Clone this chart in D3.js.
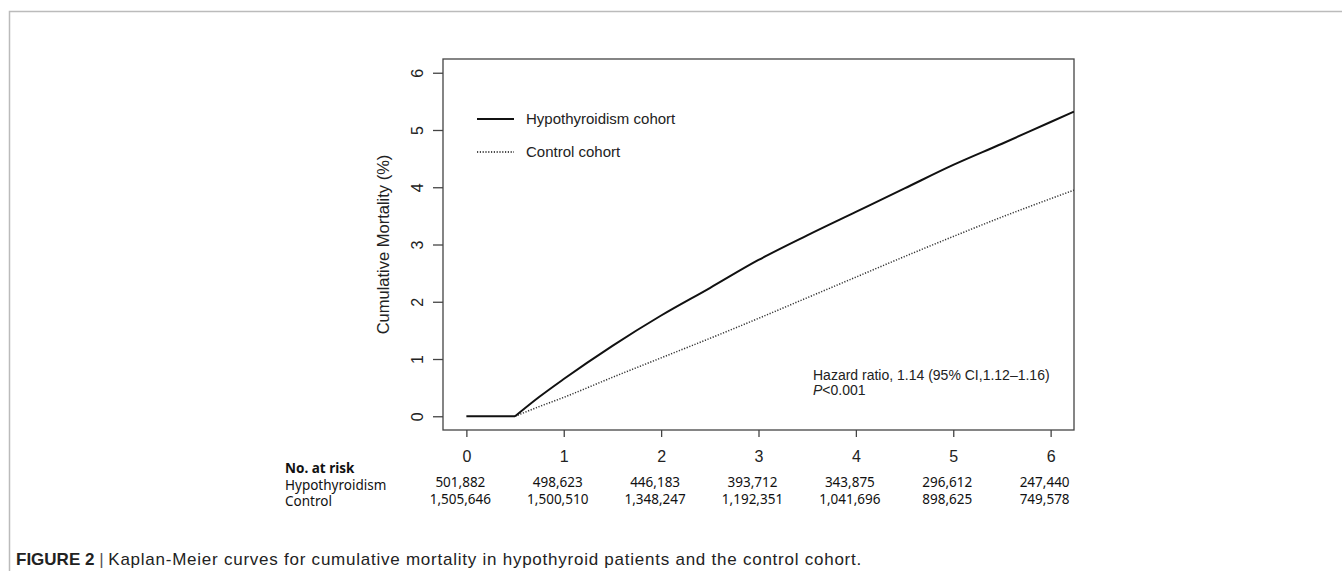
<html><head>
<meta charset="utf-8">
<script src="https://d3js.org/d3.v7.min.js"></script>
<title>Kaplan-Meier cumulative mortality</title>
<style>
  body { margin: 0; background: #fff; }
  .axis text { font-family: "Liberation Sans", Arial, sans-serif; font-size: 16px; fill: #222; }
  .axis path, .axis line { stroke: #444; stroke-width: 1.3px; }
  .lbl { font-family: "Liberation Sans", Arial, sans-serif; fill: #222; }
  .risk { font-family: "Noto Sans", "Open Sans", sans-serif; font-size: 13.5px; fill: #111; }
</style>
</head>
<body>
<script>
var years = [0, 0.5, 0.75, 1, 1.5, 2, 2.5, 3, 3.5, 4, 4.5, 5, 5.5, 6, 6.24];
var hypoMortality = [0, 0, 0.34, 0.65, 1.23, 1.76, 2.24, 2.73, 3.16, 3.57, 3.98, 4.39, 4.76, 5.14, 5.32];
var controlMortality = [0, 0, 0.17, 0.33, 0.68, 1.02, 1.36, 1.71, 2.07, 2.43, 2.79, 3.14, 3.48, 3.80, 3.95];

var xTicks = [0, 1, 2, 3, 4, 5, 6];
var yTicks = [0, 1, 2, 3, 4, 5, 6];

var riskGroups = ["Hypothyroidism", "Control"];
var riskHypo = ["501,882", "498,623", "446,183", "393,712", "343,875", "296,612", "247,440"];
var riskControl = ["1,505,646", "1,500,510", "1,348,247", "1,192,351", "1,041,696", "898,625", "749,578"];

var legendNames = ["Hypothyroidism cohort", "Control cohort"];

var W = 1342, H = 571;
var plot = {left: 443, right: 1074, top: 59, bottom: 430};

var svg = d3.select("body").append("svg")
    .attr("width", W).attr("height", H);

// page frame
svg.append("path")
    .attr("d", "M9.5," + H + "V11.5H" + W)
    .attr("fill", "none").attr("stroke", "#bbb").attr("stroke-width", 1.5);

// R style 4% padding on both axes
var x = d3.scaleLinear().domain([-0.24, 6.24]).range([plot.left, plot.right]);
var y = d3.scaleLinear().domain([-0.24, 6.24]).range([plot.bottom, plot.top]);

svg.append("rect")
    .attr("x", plot.left).attr("y", plot.top)
    .attr("width", plot.right - plot.left).attr("height", plot.bottom - plot.top)
    .attr("fill", "none").attr("stroke", "#444").attr("stroke-width", 1.3);

var xAxis = svg.append("g").attr("class", "axis")
    .attr("transform", "translate(0," + plot.bottom + ")")
    .call(d3.axisBottom(x).tickValues(xTicks).tickSize(7).tickPadding(14).tickFormat(d3.format("d")));
xAxis.select(".domain").remove();

var yAxis = svg.append("g").attr("class", "axis")
    .attr("transform", "translate(" + plot.left + ",0)")
    .call(d3.axisLeft(y).tickValues(yTicks).tickSize(10).tickFormat(d3.format("d")));
yAxis.select(".domain").remove();
yAxis.selectAll(".tick text")
    .attr("x", null).attr("dy", null)
    .attr("text-anchor", "middle")
    .attr("transform", "translate(-26,0) rotate(-90) translate(0,6)");

svg.append("text").attr("class", "lbl")
    .attr("transform", "translate(389," + ((plot.top + plot.bottom) / 2) + ") rotate(-90)")
    .attr("text-anchor", "middle").attr("font-size", 16.5)
    .text("Cumulative Mortality (%)");

// curves
svg.append("clipPath").attr("id", "clip").append("rect")
    .attr("x", plot.left).attr("y", plot.top)
    .attr("width", plot.right - plot.left).attr("height", plot.bottom - plot.top);

var flatLine = d3.line()
    .x(function(d) { return x(d[0]); })
    .y(function(d) { return y(d[1]); });
var riseLine = d3.line()
    .x(function(d) { return x(d[0]); })
    .y(function(d) { return y(d[1]); })
    .curve(d3.curveMonotoneX);

function pts(vals) {
    return years.map(function(t, i) { return [t, vals[i]]; });
}
// flat part before first events, then the rising part
function split(vals) {
    var p = pts(vals);
    return {
        flat: p.filter(function(d) { return d[0] <= 0.5; }),
        rise: p.filter(function(d) { return d[0] >= 0.5; })
    };
}

var ctrl = split(controlMortality);
svg.append("path")
    .datum(ctrl.rise)
    .attr("clip-path", "url(#clip)")
    .attr("d", riseLine).attr("fill", "none")
    .attr("stroke", "#333").attr("stroke-width", 1.5).attr("stroke-dasharray", "1.2,1.6");

var hypo = split(hypoMortality);
svg.append("path")
    .datum(hypo.flat)
    .attr("d", flatLine).attr("fill", "none")
    .attr("stroke", "#111").attr("stroke-width", 2);
svg.append("path")
    .datum(hypo.rise)
    .attr("clip-path", "url(#clip)")
    .attr("d", riseLine).attr("fill", "none")
    .attr("stroke", "#111").attr("stroke-width", 2);

// legend
var legend = svg.append("g").attr("transform", "translate(477,119)");
legendNames.forEach(function(name, i) {
    var g = legend.append("g").attr("transform", "translate(0," + (i * 33) + ")");
    g.append("line").attr("x1", 0).attr("x2", 37).attr("y1", 0).attr("y2", 0)
        .attr("stroke", "#111")
        .attr("stroke-width", i == 0 ? 2 : 1.3)
        .attr("stroke-dasharray", i == 0 ? null : "1.2,1.6");
    g.append("text").attr("class", "lbl").attr("x", 49).attr("dy", "0.35em")
        .attr("font-size", 15).text(name);
});

// hazard ratio note
svg.append("text").attr("class", "lbl").attr("x", 813).attr("y", 380).attr("font-size", 14)
    .text("Hazard ratio, 1.14 (95% CI,1.12\u20131.16)");
var p = svg.append("text").attr("class", "lbl").attr("x", 813).attr("y", 395).attr("font-size", 14);
p.append("tspan").attr("font-style", "italic").text("P");
p.append("tspan").text("<0.001");

// number at risk table
svg.append("text").attr("class", "risk").attr("x", 285).attr("y", 473)
    .attr("font-weight", "bold").attr("font-size", 14.5).text("No. at risk");
riskGroups.forEach(function(g, i) {
    svg.append("text").attr("class", "risk").attr("x", 285).attr("y", 490 + i * 16).text(g);
});
[riskHypo, riskControl].forEach(function(row, r) {
    svg.selectAll(null).data(row).enter().append("text")
        .attr("class", "risk")
        .attr("x", function(d, i) { return x(xTicks[i]) - 6; })
        .attr("y", 487 + r * 17)
        .attr("text-anchor", "middle")
        .text(function(d) { return d; });
});

// caption
var cap = svg.append("text").attr("class", "lbl").attr("x", 16).attr("y", 565).attr("font-size", 17);
cap.append("tspan").attr("font-weight", "bold").text("FIGURE 2");
cap.append("tspan").attr("fill", "#555").text(" | ");
var capMain = cap.append("tspan")
    .text("Kaplan-Meier curves for cumulative mortality in hypothyroid patients and the control cohort.");
// stretch the caption to the width it has in the figure
var capW = cap.node().getComputedTextLength();
var nChars = capMain.text().length;
capMain.attr("letter-spacing", Math.max(0, (862 - 16 - capW) / nChars));
</script>
</body></html>
